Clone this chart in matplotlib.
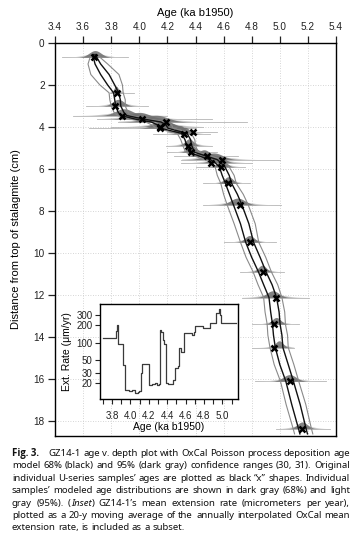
import numpy as np
import matplotlib
matplotlib.use("Agg")
import matplotlib.pyplot as plt
from matplotlib.ticker import FixedLocator, NullLocator, NullFormatter

# ---------------- data ----------------
# original U-series sample ages (ka b1950) and depths (cm)
sample_age = [3.68, 3.84, 3.83, 3.88, 4.02, 4.19, 4.15, 4.15, 4.32, 4.38, 4.35, 4.37,
              4.48, 4.59, 4.51, 4.58, 4.63, 4.72, 4.79, 4.88, 4.97, 4.96, 4.96, 5.07, 5.16]
sample_depth = [0.68, 2.37, 3.00, 3.45, 3.62, 3.76, 3.98, 4.06, 4.33, 4.25, 4.88, 5.20,
                5.40, 5.55, 5.70, 5.90, 6.68, 7.70, 9.48, 10.89, 12.11, 13.38, 14.49, 16.10, 18.35]
# 95% modeled range of each sample distribution (ka)
dist_lo = [3.45, 3.79, 3.62, 3.53, 3.70, 3.85, 3.80, 3.64, 4.10, 4.20, 4.19, 4.20,
           4.25, 4.30, 4.30, 4.40, 4.45, 4.45, 4.60, 4.72, 4.73, 4.80, 4.80, 4.82, 4.97]
dist_hi = [3.92, 3.96, 4.06, 4.20, 4.52, 4.77, 4.45, 4.40, 4.50, 4.55, 4.52, 4.55,
           4.70, 5.00, 4.80, 4.75, 4.79, 5.01, 4.97, 5.03, 5.21, 5.14, 5.10, 5.33, 5.36]

# OxCal age-depth model
model_depth = [0.55, 0.68, 1.0, 1.5, 2.0, 2.37, 2.7, 3.0, 3.3, 3.45, 3.62, 3.76, 3.9, 4.06,
               4.3, 4.6, 4.88, 5.2, 5.4, 5.55, 5.7, 5.9, 6.3, 6.68, 7.2, 7.7, 8.6, 9.48,
               10.2, 10.89, 11.5, 12.11, 12.8, 13.38, 13.9, 14.49, 15.3, 16.1, 17.2, 18.35, 18.6]
model_mean = [3.68, 3.685, 3.705, 3.755, 3.80, 3.835, 3.845, 3.85, 3.87, 3.89, 4.00, 4.12,
              4.16, 4.18, 4.32, 4.345, 4.355, 4.375, 4.46, 4.53, 4.56, 4.59, 4.615, 4.635,
              4.67, 4.70, 4.75, 4.785, 4.83, 4.875, 4.915, 4.95, 4.965, 4.975, 4.985, 4.995,
              5.03, 5.07, 5.115, 5.16, 5.17]
model_h68 = [0.005, 0.012, 0.02, 0.03, 0.025, 0.018, 0.02, 0.018, 0.02, 0.02, 0.03, 0.035,
             0.03, 0.025, 0.02, 0.02, 0.018, 0.018, 0.025, 0.025, 0.02, 0.02, 0.025, 0.022,
             0.028, 0.03, 0.03, 0.028, 0.03, 0.027, 0.03, 0.027, 0.03, 0.027, 0.03, 0.027,
             0.03, 0.027, 0.03, 0.027, 0.027]
model_h95 = [0.01, 0.035, 0.07, 0.10, 0.08, 0.05, 0.055, 0.05, 0.05, 0.045, 0.065, 0.075,
             0.07, 0.06, 0.05, 0.05, 0.045, 0.045, 0.06, 0.06, 0.05, 0.05, 0.06, 0.055,
             0.07, 0.075, 0.075, 0.065, 0.07, 0.065, 0.07, 0.065, 0.07, 0.065, 0.07, 0.065,
             0.07, 0.065, 0.07, 0.065, 0.065]

# inset: mean extension rate (um/yr), step series
rate_age = [3.708, 3.825, 3.845, 3.855, 3.868, 3.915, 3.925, 3.937, 3.99, 4.02, 4.05, 4.08,
            4.098, 4.115, 4.127, 4.18, 4.2, 4.24, 4.27, 4.29, 4.31, 4.32, 4.335, 4.36, 4.37,
            4.39, 4.41, 4.46, 4.49, 4.52, 4.534, 4.553, 4.58, 4.673, 4.69, 4.70, 4.78, 4.79,
            4.854, 4.87, 4.91, 4.927, 4.963, 4.975, 4.99, 5.145]
rate_val = [118, 118, 160, 200, 93, 93, 40, 15, 14.5, 14.8, 13.2, 13.8, 14.5, 30, 42, 42, 18.2,
            19, 20, 18.5, 19, 164, 150, 110, 95, 20, 19.3, 22, 36, 39, 82, 69, 144, 136, 150,
            195, 195, 176, 176, 215, 215, 329, 377, 300, 215, 215]

caption_lines = [
    [[("Fig. 3.", "bold", "normal")], None,
     "GZ14-1 age v. depth plot with OxCal Poisson process deposition age"],
    "model 68% (black) and 95% (dark gray) confidence ranges (30, 31). Original",
    "individual U-series samples\u2019 ages are plotted as black \u201cx\u201d shapes. Individual",
    "samples\u2019 modeled age distributions are shown in dark gray (68%) and light",
    [None, None, "gray (95%). ", [("(", "normal", "normal"), ("Inset", "normal", "italic"), (")", "normal", "normal")],
     " GZ14-1\u2019s mean extension rate (micrometers per year),"],
    "plotted as a 20-y moving average of the annually interpolated OxCal mean",
    "extension rate, is included as a subset.",
]

# ---------------- figure ----------------
W, H = 361, 543
fig = plt.figure(figsize=(W / 100, H / 100), dpi=100)
plt.rcParams['font.family'] = ['Liberation Sans', 'DejaVu Sans']

def fx(px):
    return px / W

def fy(py):
    return 1 - py / H

ax = fig.add_axes([fx(55), fy(436), fx(336) - fx(55), fy(43) - fy(436)])
ax.set_xlim(3.4, 5.4)
ax.set_ylim(18.7, 0)
ax.xaxis.tick_top()
ax.xaxis.set_label_position('top')
ax.set_xticks(np.arange(3.4, 5.41, 0.2))
ax.set_xticklabels([f"{v:.1f}" for v in np.arange(3.4, 5.41, 0.2)])
ax.set_yticks(np.arange(0, 19, 2))
ax.tick_params(axis='both', direction='out', length=5, width=0.9, labelsize=7.2, pad=2.5, colors='#222222')
ax.tick_params(axis='x', pad=3)
ax.set_xlabel("Age (ka b1950)", fontsize=8, labelpad=4)
ax.set_ylabel("Distance from top of stalagmite (cm)", fontsize=8, labelpad=9)
for s in ax.spines.values():
    s.set_linewidth(1.0)
ax.grid(True, linestyle=(0, (1, 2)), color='#c8c8c8', linewidth=0.6)
ax.set_axisbelow(True)

md = np.array(model_depth)
mm = np.array(model_mean)
h68 = np.array(model_h68)
h95 = np.array(model_h95)

# sample distributions
for a, d, lo, hi in zip(sample_age, sample_depth, dist_lo, dist_hi):
    c = np.interp(d, md, mm)
    ax.plot([lo, hi], [d, d], color='#b4b4b4', lw=0.6, zorder=2)
    xs = np.linspace(lo, hi, 300)
    s = (hi - lo) / 11
    wide = 0.16 * np.exp(-0.5 * ((xs - c) / (1.9 * s)) ** 2)
    ax.fill_between(xs, d, d - wide, color='#cccccc', lw=0, zorder=2)
    narrow = 0.32 * np.exp(-0.5 * ((xs - c) / s) ** 2)
    ax.fill_between(xs, d, d - narrow, color='#6e6e6e', lw=0, alpha=0.85, zorder=3)

# model envelopes
ax.plot(mm - h95, md, color='#8a8a8a', lw=0.8, zorder=4)
ax.plot(mm + h95, md, color='#8a8a8a', lw=0.8, zorder=4)
ax.plot(mm - h68, md, color='#111111', lw=1.0, zorder=4)
ax.plot(mm + h68, md, color='#111111', lw=1.0, zorder=4)

ax.plot(sample_age, sample_depth, linestyle='none', marker='x', color='black',
        markersize=5, mew=1.8, zorder=6)

# ---------------- inset ----------------
ins = fig.add_axes([fx(100), fy(399), fx(238) - fx(100), fy(304) - fy(399)])
ins.set_facecolor('white')
ins.set_zorder(10)
ins.step(rate_age, rate_val, where='post', color='#3a3a3a', lw=0.9)
ins.set_yscale('log')
ins.set_xlim(3.67, 5.17)
ins.set_ylim(10.4, 470)
ins.yaxis.set_major_locator(FixedLocator([20, 30, 50, 100, 200, 300]))
ins.yaxis.set_minor_locator(NullLocator())
ins.yaxis.set_minor_formatter(NullFormatter())
ins.set_yticklabels(["20", "30", "50", "100", "200", "300"])
ins.set_xticks(np.arange(3.8, 5.01, 0.2))
ins.set_xticklabels([f"{v:.1f}" for v in np.arange(3.8, 5.01, 0.2)])
ins.xaxis.set_minor_locator(FixedLocator(np.arange(3.7, 5.11, 0.2)))
ins.tick_params(axis='both', which='both', direction='out', length=3.5, width=0.8,
                labelsize=7, pad=2, colors='#222222')
ins.tick_params(axis='x', pad=5)
ins.set_xlabel("Age (ka b1950)", fontsize=7.5, labelpad=1)
ins.set_ylabel("Ext. Rate (\u03bcm/yr)", fontsize=7.5, labelpad=3)
for s in ins.spines.values():
    s.set_linewidth(1.0)

# ---------------- caption (justified) ----------------
cap_font = ['Noto Sans', 'DejaVu Sans']
bold_font = ['Open Sans', 'DejaVu Sans']
cap_size = 6.9
renderer = fig.canvas.get_renderer()

def fam(weight):
    return bold_font if weight == 'bold' else cap_font

def seg_width(txt, weight, style):
    t = fig.text(0, 0, txt, fontsize=cap_size, family=fam(weight), weight=weight, style=style)
    w = t.get_window_extent(renderer=renderer).width
    t.remove()
    return w

left_px, right_px = 12, 350
y0, dy = 453.5, 12.4
space_w = seg_width("a a", 'normal', 'normal') - seg_width("aa", 'normal', 'normal')

for i, line in enumerate(caption_lines):
    ypx = y0 + i * dy
    toks = []
    if isinstance(line, str):
        toks = [[(w, 'normal', 'normal')] for w in line.split(' ') if w]
    elif i == 0:
        toks = [line[0] + [("GAP", None, None)]]
        toks += [[(w, 'normal', 'normal')] for w in line[2].split(' ') if w]
    else:
        words = [w for w in line[2].split(' ') if w]
        toks = [[(w, 'normal', 'normal')] for w in words]
        toks.append(line[3])
        toks += [[(w, 'normal', 'normal')] for w in line[4].split(' ') if w]
    widths = []
    for tk in toks:
        w = 0
        for txt, wt, st in tk:
            if txt == "GAP":
                w += 3.0 * space_w
            else:
                w += seg_width(txt, wt, st)
        widths.append(w)
    last = (i == len(caption_lines) - 1)
    if last:
        gap = space_w
    else:
        gap = max((right_px - left_px - sum(widths)) / (len(toks) - 1), 0.6 * space_w)
    x = left_px
    for tk, w in zip(toks, widths):
        xx = x
        for txt, wt, st in tk:
            if txt == "GAP":
                continue
            fig.text(fx(xx), fy(ypx), txt, fontsize=cap_size, family=fam(wt),
                     weight=wt, style=st, va='center', ha='left', color='#111111')
            xx += seg_width(txt, wt, st)
        x += w + gap

fig.savefig("out.png", dpi=100)
